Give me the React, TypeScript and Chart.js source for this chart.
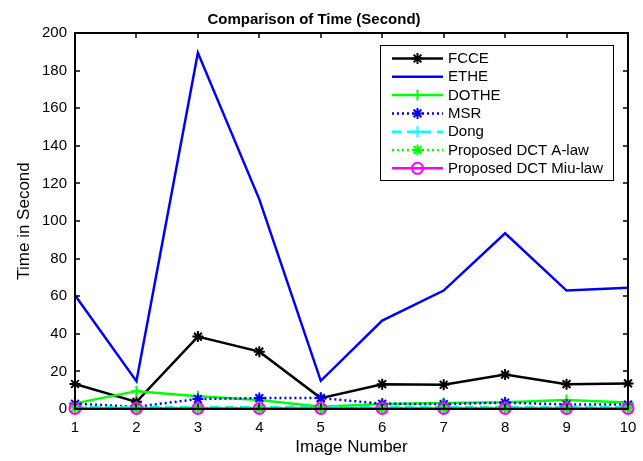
import React, { useEffect, useRef } from 'react';
import { Chart, registerables } from 'chart.js';

Chart.register(...registerables);

const chartTitle = 'Comparison of Time (Second)';
const xTitle = 'Image Number';
const yTitle = 'Time in Second';
const imageNumbers = [1, 2, 3, 4, 5, 6, 7, 8, 9, 10];
const fcce = [13.3, 3.8, 38.5, 30.5, 5.8, 13.2, 12.9, 18.3, 13.2, 13.6];
const ethe = [60.5, 14.8, 189.5, 111.5, 15.0, 47.0, 63.0, 93.5, 63.0, 64.5];
const dothe = [3.0, 9.5, 6.8, 4.8, 1.2, 2.6, 3.2, 3.6, 4.8, 3.4];
const msr = [2.8, 1.2, 5.3, 5.8, 5.8, 2.8, 2.6, 3.4, 2.4, 2.4];
const dong = [1.0, 1.0, 1.1, 1.0, 1.0, 0.9, 1.0, 1.0, 1.0, 1.0];
const aLaw = [0.6, 0.5, 0.6, 0.5, 0.6, 0.5, 0.6, 0.6, 0.5, 0.6];
const miuLaw = [0.3, 0.3, 0.3, 0.3, 0.3, 0.3, 0.3, 0.3, 0.3, 0.3];

const FONT = "'Liberation Sans', Arial, Helvetica, sans-serif";

type SeriesDef = { label: string; data: number[]; color: string; dash: number[]; point: string; };
const series: SeriesDef[] = [
  { label: 'FCCE', data: fcce, color: '#000000', dash: [], point: 'star' },
  { label: 'ETHE', data: ethe, color: '#0000ff', dash: [], point: 'none' },
  { label: 'DOTHE', data: dothe, color: '#00ff00', dash: [], point: 'cross' },
  { label: 'MSR', data: msr, color: '#0000ff', dash: [2, 3], point: 'star' },
  { label: 'Dong', data: dong, color: '#00ffff', dash: [9, 6], point: 'cross' },
  { label: 'Proposed DCT A-law', data: aLaw, color: '#00ff00', dash: [2, 3], point: 'star' },
  { label: 'Proposed DCT Miu-law', data: miuLaw, color: '#ff00ff', dash: [], point: 'circle' },
];

function drawMarker(ctx: CanvasRenderingContext2D, style: string, x: number, y: number, r: number) {
  ctx.beginPath();
  if (style === 'star' || style === 'cross') {
    ctx.moveTo(x - r, y); ctx.lineTo(x + r, y);
    ctx.moveTo(x, y - r); ctx.lineTo(x, y + r);
    if (style === 'star') {
      const d = r * Math.SQRT1_2;
      ctx.moveTo(x - d, y - d); ctx.lineTo(x + d, y + d);
      ctx.moveTo(x - d, y + d); ctx.lineTo(x + d, y - d);
    }
    ctx.stroke();
  } else if (style === 'circle') {
    ctx.arc(x, y, r, 0, Math.PI * 2);
    ctx.stroke();
  }
}

const framePlugin = {
  id: 'frameAndLegend',
  afterDraw(chart: any) {
    const { ctx, chartArea } = chart;
    const { left, right, top, bottom } = chartArea;
    const xs = chart.scales.x;
    const ys = chart.scales.y;
    ctx.save();
    ctx.setLineDash([]);
    ctx.strokeStyle = '#000';
    ctx.lineWidth = 2;
    ctx.strokeRect(left, top, right - left, bottom - top);
    ctx.lineWidth = 1.5;
    ctx.beginPath();
    xs.ticks.forEach((t: any) => {
      const px = Math.round(xs.getPixelForValue(t.value));
      ctx.moveTo(px, bottom); ctx.lineTo(px, bottom - 5);
      ctx.moveTo(px, top); ctx.lineTo(px, top + 5);
    });
    ys.ticks.forEach((t: any) => {
      const py = Math.round(ys.getPixelForValue(t.value));
      ctx.moveTo(left, py); ctx.lineTo(left + 5, py);
      ctx.moveTo(right, py); ctx.lineTo(right - 5, py);
    });
    ctx.stroke();

    // legend
    const lx = 380, ly = 45, lw = 233, lh = 135;
    ctx.fillStyle = '#fff';
    ctx.fillRect(lx, ly, lw, lh);
    ctx.strokeStyle = '#000';
    ctx.lineWidth = 1;
    ctx.strokeRect(lx + 0.5, ly + 0.5, lw, lh);
    ctx.font = `15px ${FONT}`;
    ctx.textBaseline = 'middle';
    ctx.textAlign = 'left';
    series.forEach((s, i) => {
      const y = ly + 13.5 + i * 18.3;
      ctx.strokeStyle = s.color;
      ctx.lineWidth = 2.5;
      ctx.setLineDash(s.dash);
      ctx.beginPath();
      ctx.moveTo(392, y); ctx.lineTo(443, y);
      ctx.stroke();
      ctx.setLineDash([]);
      ctx.lineWidth = 2;
      drawMarker(ctx, s.point, 417.5, y, 5.5);
      ctx.fillStyle = '#000';
      ctx.fillText(s.label, 448, y + 0.5);
    });
    ctx.restore();
  },
};

export default function App() {
  const ref = useRef<HTMLCanvasElement>(null);
  useEffect(() => {
    document.body.style.margin = '0';
    const canvas = ref.current!;
    const datasets = series.map((s, i) => ({
      label: s.label,
      data: s.data.map((v, j) => ({ x: imageNumbers[j], y: v })),
      borderColor: s.color,
      backgroundColor: 'rgba(0,0,0,0)',
      borderWidth: 2.5,
      borderDash: s.dash,
      pointStyle: s.point === 'none' ? false : s.point,
      pointRadius: s.point === 'none' ? 0 : 5.5,
      pointBorderWidth: 2,
      pointBorderColor: s.color,
      pointBackgroundColor: 'rgba(0,0,0,0)',
      tension: 0,
      fill: false,
      clip: false,
      order: series.length - i,
    }));
    const chart = new Chart(canvas, {
      type: 'line',
      data: { datasets } as any,
      plugins: [framePlugin],
      options: {
        animation: false,
        responsive: false,
        devicePixelRatio: 1,
        layout: { padding: { left: 0, right: 15, top: 0, bottom: 0 } },
        plugins: {
          legend: { display: false },
          tooltip: { enabled: false },
          title: {
            display: true,
            text: chartTitle,
            color: '#000',
            font: { family: FONT, size: 15, weight: 'bold' },
            padding: { top: 11, bottom: 4 },
          },
        },
        scales: {
          x: {
            type: 'linear',
            min: 1,
            max: 10,
            ticks: { stepSize: 1, color: '#000', font: { family: FONT, size: 15 }, padding: 10 },
            grid: { display: false, drawTicks: false },
            border: { display: false },
            title: { display: true, text: xTitle, color: '#000', font: { family: FONT, size: 17 }, padding: { top: 0, bottom: 3 } },
            afterFit: (s: any) => { s.height = 52; s.paddingLeft = 0; s.paddingRight = 0; },
          },
          y: {
            min: 0,
            max: 200,
            ticks: { stepSize: 20, color: '#000', font: { family: FONT, size: 15 }, padding: 8 },
            grid: { display: false, drawTicks: false },
            border: { display: false },
            title: { display: true, text: yTitle, color: '#000', font: { family: FONT, size: 17 }, padding: { top: 14, bottom: 0 } },
            afterFit: (s: any) => { s.width = 75; s.paddingTop = 0; s.paddingBottom = 0; },
          },
        },
      } as any,
    });
    return () => chart.destroy();
  }, []);
  return <canvas ref={ref} width={643} height={461} style={{ display: 'block' }} />;
}
